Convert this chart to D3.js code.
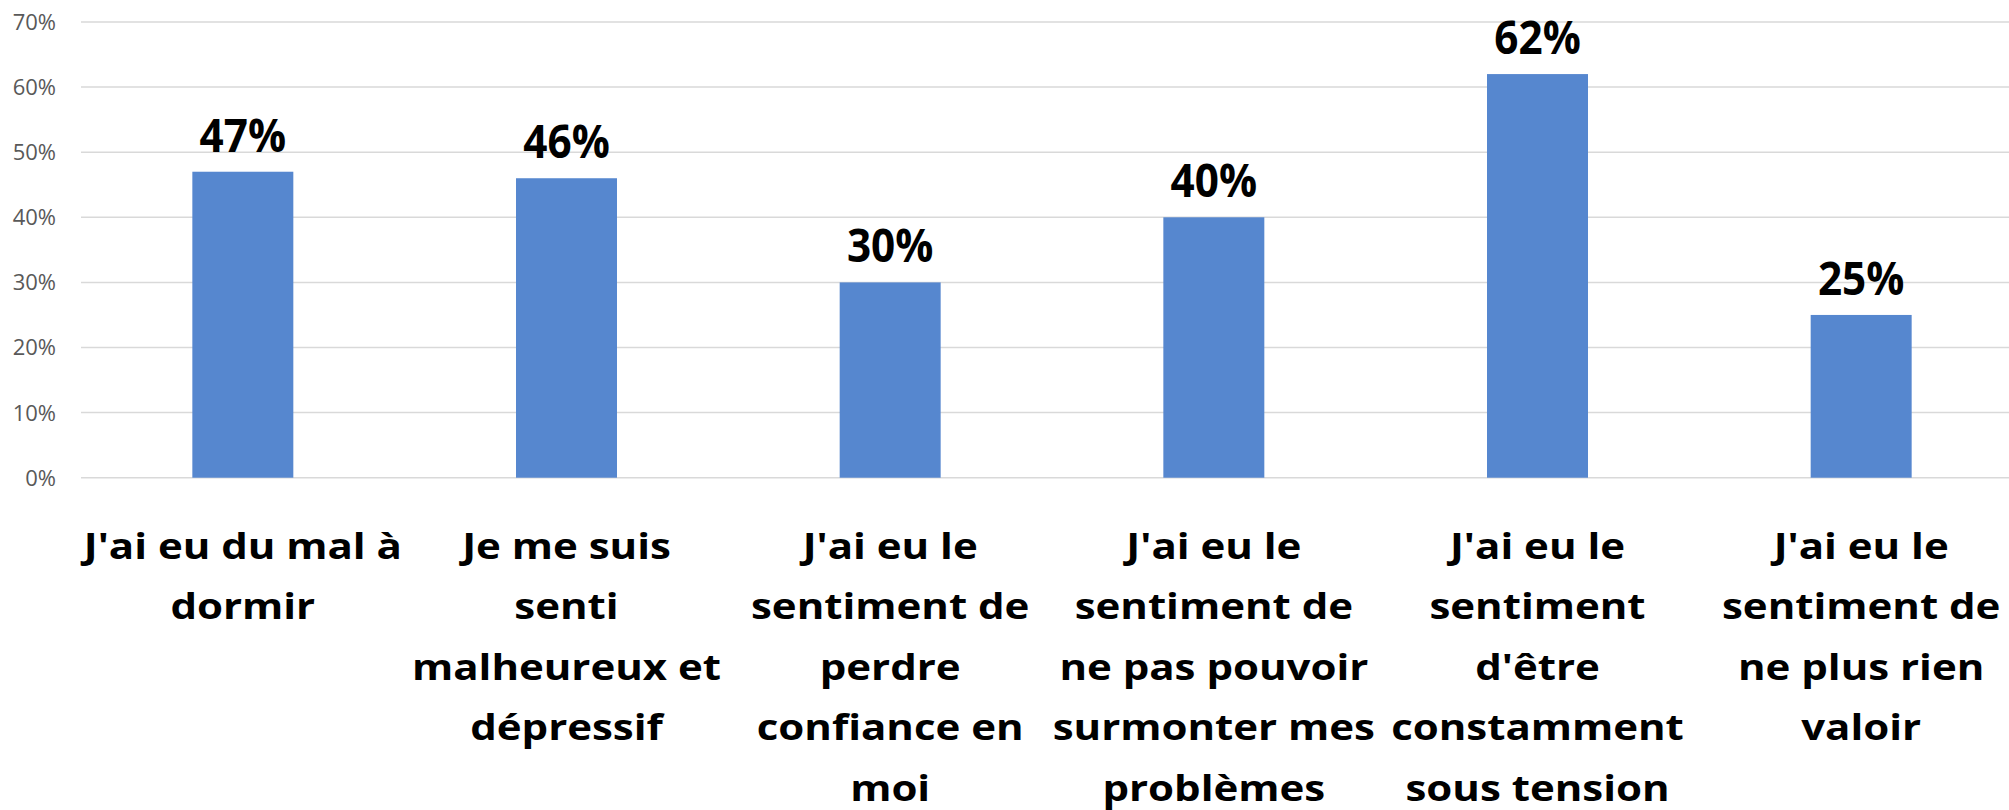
<!DOCTYPE html>
<html>
<head>
<meta charset="utf-8">
<script src="https://cdn.jsdelivr.net/npm/d3@7"></script>
<style>
  html, body { margin: 0; padding: 0; background: #fff; overflow: hidden; }
  svg { display: block; }
</style>
</head>
<body>
<svg id="chart" width="2009" height="810"></svg>
<script>
// ---- data ----
const categories = [
  ["J'ai eu du mal à", "dormir"],
  ["Je me suis", "senti", "malheureux et", "dépressif"],
  ["J'ai eu le", "sentiment de", "perdre", "confiance en", "moi"],
  ["J'ai eu le", "sentiment de", "ne pas pouvoir", "surmonter mes", "problèmes"],
  ["J'ai eu le", "sentiment", "d'être", "constamment", "sous tension"],
  ["J'ai eu le", "sentiment de", "ne plus rien", "valoir"]
];
const values = [0.47, 0.46, 0.30, 0.40, 0.62, 0.25];
const yTicks = [0, 0.1, 0.2, 0.3, 0.4, 0.5, 0.6, 0.7];

// ---- layout ----
const W = 2009, H = 810;
const plotLeft = 81, plotRight = 2023, plotTop = 22, plotBottom = 477.7;
const catScaleX = 1.2;   // horizontal stretch of category labels
const valScaleX = 0.92;  // horizontal stretch of value labels

const svg = d3.select("#chart");
const idx = d3.range(values.length);

const x = d3.scaleBand()
  .domain(idx)
  .range([plotLeft, plotRight])
  .paddingInner(0.688)
  .paddingOuter(0.344);

const y = d3.scaleLinear().domain([0, 0.7]).range([plotBottom, plotTop]);

// gridlines
svg.append("g")
  .selectAll("line")
  .data(yTicks)
  .join("line")
  .attr("x1", plotLeft)
  .attr("x2", W)
  .attr("y1", d => y(d))
  .attr("y2", d => y(d))
  .attr("stroke", "#d9d9d9")
  .attr("stroke-width", 1.5);

// y axis labels
const fmt = d3.format(".0%");
svg.append("g")
  .selectAll("text")
  .data(yTicks)
  .join("text")
  .attr("x", 56)
  .attr("y", d => y(d))
  .attr("dy", "0.36em")
  .attr("text-anchor", "end")
  .attr("font-family", "'Open Sans', sans-serif")
  .attr("font-size", 22)
  .attr("fill", "#595959")
  .text(d => fmt(d));

// bars
svg.append("g")
  .selectAll("rect")
  .data(idx)
  .join("rect")
  .attr("x", i => x(i))
  .attr("width", x.bandwidth())
  .attr("y", i => y(values[i]))
  .attr("height", i => y(0) - y(values[i]))
  .attr("fill", "#5687cf");

// value labels
svg.append("g")
  .selectAll("text")
  .data(idx)
  .join("text")
  .attr("transform", i => `translate(${x(i) + x.bandwidth() / 2},${y(values[i]) - 20}) scale(${valScaleX},1)`)
  .attr("text-anchor", "middle")
  .attr("font-family", "'Open Sans', sans-serif")
  .attr("font-weight", "bold")
  .attr("font-size", 46)
  .attr("fill", "#000")
  .text(i => fmt(values[i]));

// category labels
const catG = svg.append("g")
  .selectAll("g")
  .data(idx)
  .join("g")
  .attr("transform", i => `translate(${x(i) + x.bandwidth() / 2},559) scale(${catScaleX},1)`);

catG.each(function(i) {
  d3.select(this).selectAll("text")
    .data(categories[i])
    .join("text")
    .attr("x", 0)
    .attr("y", (d, k) => k * 60.5)
    .attr("text-anchor", "middle")
    .attr("font-family", "'Open Sans', sans-serif")
    .attr("font-weight", "bold")
    .attr("font-size", 35)
    .attr("fill", "#000")
    .text(d => d);
});
</script>
</body>
</html>
